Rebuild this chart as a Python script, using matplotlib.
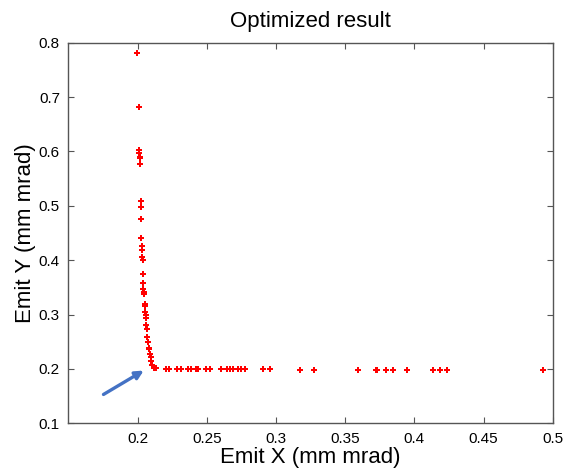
import matplotlib
matplotlib.use('Agg')
import matplotlib.pyplot as plt

plt.rcParams['font.family'] = ['Liberation Sans', 'DejaVu Sans']

# vertical branch of the front
emit_x_v = [0.1995, 0.2010, 0.2014, 0.2014, 0.2016, 0.2020, 0.2020, 0.2024, 0.2027, 0.2027,
            0.2027, 0.2031, 0.2034, 0.2034, 0.2038, 0.2038, 0.2038, 0.2043, 0.2046, 0.2048,
            0.2051, 0.2053, 0.2053, 0.2058, 0.2060, 0.2063, 0.2067, 0.2072, 0.2074, 0.2080,
            0.2085, 0.2089, 0.2094, 0.2099, 0.2106, 0.2118, 0.2132]
emit_y_v = [0.781, 0.681, 0.603, 0.598, 0.590, 0.588, 0.576, 0.509, 0.498, 0.475,
            0.441, 0.426, 0.418, 0.405, 0.400, 0.375, 0.358, 0.347, 0.342, 0.338,
            0.319, 0.315, 0.305, 0.299, 0.293, 0.280, 0.274, 0.258, 0.250, 0.239,
            0.236, 0.228, 0.222, 0.214, 0.207, 0.202, 0.201]

# horizontal branch
emit_x_h = [0.2205, 0.2226, 0.2282, 0.2311, 0.2364, 0.2388, 0.2419, 0.2439, 0.2492, 0.2523,
            0.2600, 0.2647, 0.2665, 0.2692, 0.2723, 0.2745, 0.2774, 0.2906, 0.2954, 0.3171,
            0.3273, 0.3593, 0.3721, 0.3733, 0.3795, 0.3844, 0.3950, 0.4133, 0.4186, 0.4234,
            0.4926]
emit_y_h = [0.200, 0.200, 0.200, 0.200, 0.200, 0.200, 0.200, 0.200, 0.200, 0.200,
            0.200, 0.200, 0.200, 0.200, 0.200, 0.200, 0.200, 0.200, 0.200, 0.198,
            0.198, 0.198, 0.198, 0.198, 0.198, 0.198, 0.198, 0.198, 0.198, 0.198,
            0.198]

x_ticks = [0.2, 0.25, 0.3, 0.35, 0.4, 0.45, 0.5]
y_ticks = [0.1, 0.2, 0.3, 0.4, 0.5, 0.6, 0.7, 0.8]

fig = plt.figure(figsize=(5.66, 4.69), dpi=100)
ax = fig.add_axes([0.1207, 0.0975, 0.856, 0.8115])

ax.plot(emit_x_v + emit_x_h, emit_y_v + emit_y_h, linestyle='none', marker='P',
        markersize=4.3, color='red', markeredgewidth=0)

# arrow pointing at the knee
ax.annotate('', xy=(0.2045, 0.197), xytext=(0.1754, 0.153),
            arrowprops=dict(arrowstyle='-|>', color='#4472C4', lw=2.4,
                            mutation_scale=12, shrinkA=0, shrinkB=0))

ax.set_xlim(0.15, 0.5)
ax.set_ylim(0.1, 0.8)
ax.set_xticks(x_ticks)
ax.set_xticklabels([f'{t:g}' for t in x_ticks])
ax.set_yticks(y_ticks)
ax.set_yticklabels([f'{t:g}' for t in y_ticks])
ax.tick_params(direction='in', top=True, right=True, labelsize=11, length=4,
               color='#555555', pad=6)
for s in ax.spines.values():
    s.set_color('#555555')
    s.set_linewidth(1.0)

ax.set_title('Optimized result', fontsize=16, pad=11)
ax.set_xlabel('Emit X (mm mrad)', fontsize=16, labelpad=1)
ax.set_ylabel('Emit Y (mm mrad)', fontsize=16, labelpad=2)

fig.savefig('out.png', dpi=100)
